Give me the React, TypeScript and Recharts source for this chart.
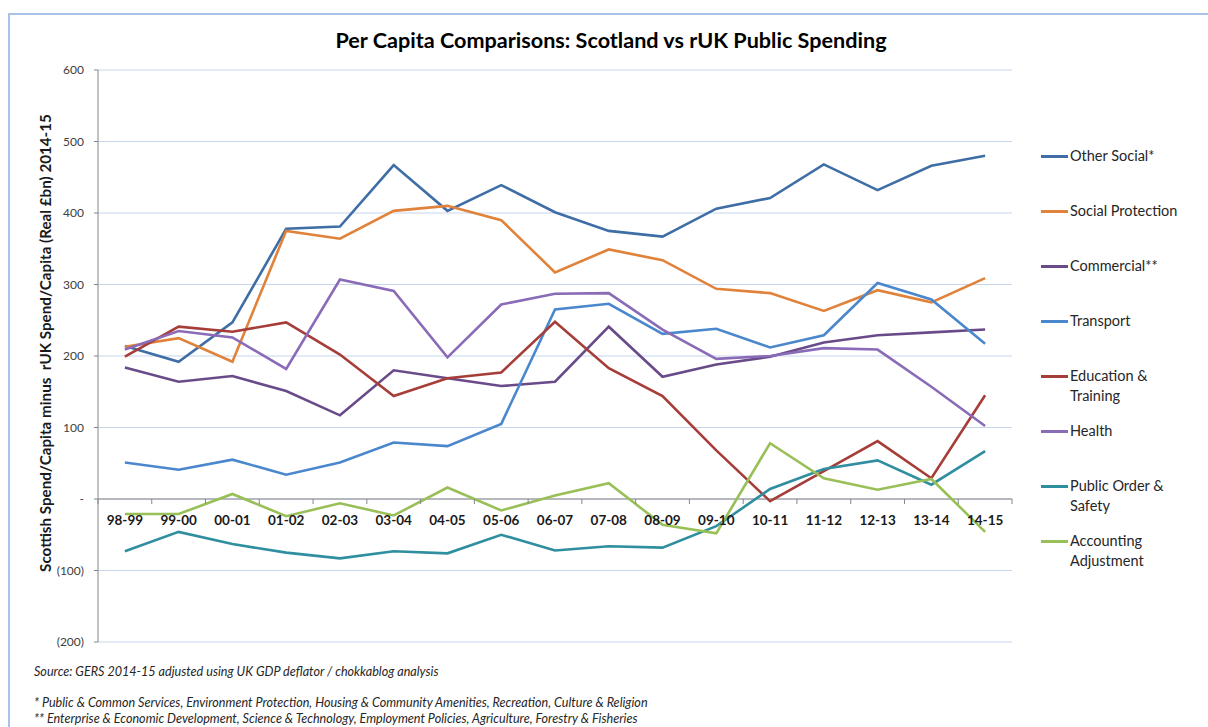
import React from "react";
import { LineChart, Line, XAxis, YAxis, CartesianGrid, ReferenceLine, Legend } from "recharts";

// financial years on the category axis
const years = ["98-99", "99-00", "00-01", "01-02", "02-03", "03-04", "04-05", "05-06", "06-07", "07-08", "08-09", "09-10", "10-11", "11-12", "12-13", "13-14", "14-15"];

// £ per head, Scotland minus rest of UK
const otherSocial = [214, 192, 247, 378, 381, 467, 403, 439, 401, 375, 367, 406, 421, 468, 432, 466, 480];
const socialProtection = [213, 225, 192, 375, 364, 403, 410, 390, 317, 349, 334, 294, 288, 263, 292, 275, 309];
const commercial = [184, 164, 172, 151, 117, 180, 169, 158, 164, 241, 171, 188, 199, 219, 229, 233, 237];
const transport = [51, 41, 55, 34, 51, 79, 74, 105, 265, 273, 231, 238, 212, 229, 302, 279, 217];
const education = [199, 241, 234, 247, 202, 144, 169, 177, 248, 183, 144, 68, -3, 39, 81, 29, 145];
const health = [209, 235, 226, 182, 307, 291, 198, 272, 287, 288, 237, 196, 200, 211, 209, 157, 102];
const publicOrder = [-73, -46, -63, -75, -83, -73, -76, -50, -72, -66, -68, -38, 14, 42, 54, 20, 67];
const accounting = [-21, -21, 7, -24, -6, -23, 16, -16, 5, 22, -36, -48, 78, 29, 13, 28, -46];

const yTicks = [-200, -100, 0, 100, 200, 300, 400, 500, 600];

const series = [
  { key: "otherSocial", name: "Other Social*", color: "#3E6EA5", values: otherSocial },
  { key: "socialProtection", name: "Social Protection", color: "#E0823A", values: socialProtection },
  { key: "commercial", name: "Commercial**", color: "#694B89", values: commercial },
  { key: "transport", name: "Transport", color: "#4A87CC", values: transport },
  { key: "education", name: "Education & Training", color: "#A63D38", values: education },
  { key: "health", name: "Health", color: "#8A6BB7", values: health },
  { key: "publicOrder", name: "Public Order & Safety", color: "#2F8E9F", values: publicOrder },
  { key: "accounting", name: "Accounting Adjustment", color: "#99BF57", values: accounting },
];

const data = years.map((year, i) => {
  const row: Record<string, string | number> = { year };
  series.forEach((s) => (row[s.key] = s.values[i]));
  return row;
});

const FONT = "Lato, 'Open Sans', sans-serif";
const AXIS_GREY = "#868686";
const GRID_BLUE = "#C6D6EF";

// chart geometry
const W = 1208;
const H = 727;
const MARGIN = { top: 70, right: 196, bottom: 55, left: 38 };
const Y_AXIS_W = 60;
const X_AXIS_H = 30;
const PLOT_W = W - MARGIN.left - MARGIN.right - Y_AXIS_W;
const PLOT_H = H - MARGIN.top - MARGIN.bottom - X_AXIS_H;
const BAND = PLOT_W / years.length;
const Y_MIN = yTicks[0];
const Y_MAX = yTicks[yTicks.length - 1];
// Excel puts the category axis where y = 0
const ZERO_Y = MARGIN.top + (PLOT_H * Y_MAX) / (Y_MAX - Y_MIN);

const fmtY = (v: number) => (v === 0 ? "-" : v < 0 ? `(${-v})` : `${v}`);

const XTick = (props: any) => {
  const { x, payload, index } = props;
  return (
    <g>
      <line x1={x - BAND / 2} x2={x - BAND / 2} y1={ZERO_Y} y2={ZERO_Y + 5} stroke={AXIS_GREY} />
      {index === years.length - 1 && (
        <line x1={x + BAND / 2} x2={x + BAND / 2} y1={ZERO_Y} y2={ZERO_Y + 5} stroke={AXIS_GREY} />
      )}
      <text x={x} y={ZERO_Y + 26} textAnchor="middle" fontFamily={FONT} fontSize={13.5} fontWeight={700} fill="#1a1a1a">
        {payload.value}
      </text>
    </g>
  );
};

const order = series.map((s) => s.name);

const LegendContent = ({ payload }: { payload?: Array<{ value: string; color: string }> }) => {
  const items = [...(payload || [])].sort((a, b) => order.indexOf(a.value) - order.indexOf(b.value));
  return (
    <div style={{ fontFamily: FONT, fontSize: 14.5, color: "#262626" }}>
      {items.map((p) => (
        <div key={p.value} style={{ display: "flex", alignItems: "flex-start", height: 55 }}>
          <span style={{ width: 27, height: 3, background: p.color, marginTop: 8.5, flexShrink: 0 }} />
          <span style={{ width: 118, lineHeight: "19.5px", marginLeft: 2 }}>{p.value}</span>
        </div>
      ))}
    </div>
  );
};

export default function App() {
  return (
    <div style={{ position: "absolute", left: 0, top: 0, width: W, height: H, background: "#fff", overflow: "hidden", fontFamily: FONT }}>
      <div style={{ position: "absolute", left: 8, top: 13, width: W, height: H, borderTop: "2px solid #A8C2E8", borderLeft: "2px solid #A8C2E8" }} />
      <div style={{ position: "absolute", left: 0, top: 26, width: 1222, textAlign: "center", fontSize: 21.6, fontWeight: 700, color: "#000", lineHeight: "28px" }}>
        Per Capita Comparisons: Scotland vs rUK Public Spending
      </div>
      <div
        style={{
          position: "absolute", left: 45 - 250, top: 343 - 10, width: 500, height: 20, lineHeight: "20px",
          textAlign: "center", transform: "rotate(-90deg)", fontSize: 15.2, fontWeight: 700, color: "#1a1a1a", whiteSpace: "pre",
        }}
      >
        {"Scottish Spend/Capita minus  rUK Spend/Capita (Real £bn) 2014-15"}
      </div>
      <div style={{ position: "absolute", left: 0, top: 0 }}>
        <LineChart width={W} height={H} data={data} margin={MARGIN}>
          <CartesianGrid horizontal vertical={false} stroke={GRID_BLUE} strokeWidth={1} />
          <XAxis
            dataKey="year"
            height={X_AXIS_H}
            axisLine={false}
            tickLine={false}
            interval={0}
            padding={{ left: BAND / 2, right: BAND / 2 }}
            tick={(p: any) => <XTick {...p} />}
          />
          <YAxis
            width={Y_AXIS_W}
            domain={[Y_MIN, Y_MAX]}
            ticks={yTicks}
            tickFormatter={fmtY}
            axisLine={{ stroke: AXIS_GREY }}
            tickLine={{ stroke: AXIS_GREY }}
            tickSize={4}
            tickMargin={10}
            tick={{ fill: "#404040", fontSize: 12, fontFamily: FONT }}
            allowDataOverflow
          />
          <ReferenceLine y={0} stroke={AXIS_GREY} strokeWidth={1} />
          {series.map((s) => (
            <Line key={s.key} type="linear" dataKey={s.key} name={s.name} stroke={s.color} strokeWidth={2.6} dot={false} isAnimationActive={false} />
          ))}
          <Legend
            layout="vertical"
            align="center"
            verticalAlign="middle"
            content={<LegendContent />}
            wrapperStyle={{ position: "absolute", left: 1041, top: 146, width: 160, right: "auto", bottom: "auto" }}
          />
        </LineChart>
      </div>
      <div style={{ position: "absolute", left: 34, top: 664, fontSize: 12.6, fontStyle: "italic", color: "#262626", lineHeight: "15.5px", whiteSpace: "nowrap" }}>
        <div>Source: GERS 2014-15 adjusted using UK GDP deflator / chokkablog analysis</div>
        <div style={{ marginTop: 15.5 }}>* Public &amp; Common Services, Environment Protection, Housing &amp; Community Amenities, Recreation, Culture &amp; Religion</div>
        <div>** Enterprise &amp; Economic Development, Science &amp; Technology, Employment Policies, Agriculture, Forestry &amp; Fisheries</div>
      </div>
    </div>
  );
}
